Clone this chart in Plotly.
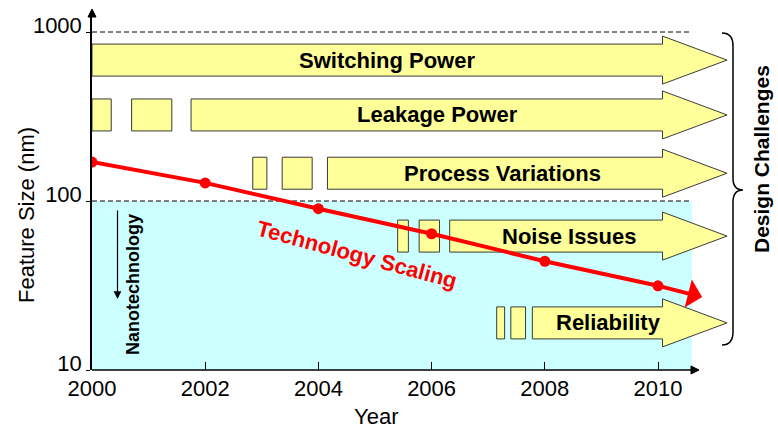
import math
import plotly.graph_objects as go

# ---------------- data ----------------
years = [2000, 2002, 2004, 2006, 2008, 2010]
feature_nm = [170, 128, 90, 64, 44, 31.5]
trend_tip_year = 2010.78
trend_tip_nm = 27

challenge_labels = ["Switching Power", "Leakage Power", "Process Variations",
                    "Noise Issues", "Reliability"]
challenge_level_nm = [682, 323, 146, 62, 19]
challenge_main_start = [2000.0, 2001.75, 2004.16, 2006.32, 2007.78]
challenge_pre_blocks = [
    [],
    [(2000.0, 2000.34), (2000.70, 2001.41)],
    [(2002.84, 2003.09), (2003.36, 2003.89)],
    [(2005.40, 2005.59), (2005.78, 2006.14)],
    [(2007.15, 2007.29), (2007.40, 2007.66)],
]
challenge_label_year = [2005.21, 2006.10, 2007.26, 2008.44, 2009.13]

x_ticks = [2000, 2002, 2004, 2006, 2008, 2010]
y_ticks = [10, 100, 1000]
nano_limit_nm = 100
upper_ref_nm = 1000

# ---------------- layout geometry ----------------
W, H = 778, 436
ML, MR, MT, MB = 92, 38, 16, 66
PW, PH = W - ML - MR, H - MT - MB
PX_PER_YEAR = 56.6
X_RANGE = [2000, 2000 + PW / PX_PER_YEAR]
DECADE_PX = 169.0
Y_RANGE = [1, 1 + PH / DECADE_PX]
REGION_END = 2010.6
HEAD_BASE, HEAD_TIP = 2010.08, 2011.22

FONT = "Liberation Sans, Arial, sans-serif"


def pxx(px):
    return (px - ML) / PW


def pxy(py):
    return (H - MB - py) / PH


def vy(v):
    return (math.log10(v) - Y_RANGE[0]) / (Y_RANGE[1] - Y_RANGE[0])


def label(x, y, text, size, color="black", angle=0, xref="paper", yref="paper"):
    return dict(x=x, y=y, xref=xref, yref=yref, text=text, textangle=angle,
                showarrow=False, xanchor="center", yanchor="middle",
                font=dict(family=FONT, size=size, color=color))


shapes = []
annotations = []

# nanotechnology region
shapes.append(dict(type="rect", xref="x", yref="paper", x0=2000, x1=REGION_END,
                   y0=vy(10), y1=vy(nano_limit_nm), fillcolor="#CCFFFF",
                   line=dict(width=0), layer="below"))
for ref in (nano_limit_nm, upper_ref_nm):
    shapes.append(dict(type="line", xref="x", yref="paper", x0=2000, x1=REGION_END,
                       y0=vy(ref), y1=vy(ref),
                       line=dict(color="black", width=1, dash="5px,3px"), layer="below"))

# x axis line + arrow
shapes.append(dict(type="line", xref="paper", yref="paper", x0=0, x1=pxx(692),
                   y0=0, y1=0, line=dict(color="black", width=1.5)))
shapes.append(dict(type="path", xref="paper", yref="paper",
                   path=f"M {pxx(691)},{pxy(366)} L {pxx(699)},{pxy(370)} L {pxx(691)},{pxy(374)} Z",
                   fillcolor="black", line=dict(color="black", width=1)))
# y axis arrow
shapes.append(dict(type="path", xref="paper", yref="paper",
                   path=f"M {pxx(88)},{pxy(17)} L {pxx(92)},{pxy(9)} L {pxx(96)},{pxy(17)} Z",
                   fillcolor="black", line=dict(color="black", width=1)))

# challenge arrows
FILL = "#FFFF99"
EDGE = "#3a3a3a"
BODY_H, HEAD_H = 16, 24
for lab, lvl, start, blocks, lx in zip(challenge_labels, challenge_level_nm,
                                        challenge_main_start, challenge_pre_blocks,
                                        challenge_label_year):
    c = vy(lvl)
    b = BODY_H / PH
    h = HEAD_H / PH
    for (a0, a1) in blocks:
        shapes.append(dict(type="rect", xref="x", yref="paper", x0=a0, x1=a1,
                           y0=c - b, y1=c + b, fillcolor=FILL, layer="below",
                           line=dict(color=EDGE, width=1)))
    path = (f"M {start},{c + b} L {HEAD_BASE},{c + b} L {HEAD_BASE},{c + h} "
            f"L {HEAD_TIP},{c} L {HEAD_BASE},{c - h} L {HEAD_BASE},{c - b} "
            f"L {start},{c - b} Z")
    shapes.append(dict(type="path", xref="x", yref="paper", path=path, layer="below",
                       fillcolor=FILL, line=dict(color=EDGE, width=1)))
    annotations.append(label(lx, c, f"<b>{lab}</b>", 22, xref="x"))

# brace
brace = (f"M {pxx(722)},{pxy(33)} Q {pxx(733)},{pxy(33)} {pxx(733)},{pxy(46)} "
         f"L {pxx(733)},{pxy(178)} Q {pxx(733)},{pxy(190)} {pxx(743)},{pxy(190)} "
         f"Q {pxx(733)},{pxy(190)} {pxx(733)},{pxy(202)} "
         f"L {pxx(733)},{pxy(332)} Q {pxx(733)},{pxy(345)} {pxx(722)},{pxy(345)}")
shapes.append(dict(type="path", xref="paper", yref="paper", path=brace,
                   line=dict(color="black", width=1.5)))

annotations.append(label(pxx(761), pxy(159), "<b>Design Challenges</b>", 21, angle=-90))

# nanotechnology label + arrow
annotations.append(label(pxx(133), pxy(285), "<b>Nanotechnology</b>", 18, angle=-90))
annotations.append(dict(x=pxx(117.5), y=pxy(299), xref="paper", yref="paper", text="",
                        showarrow=True, ax=0, ay=-90, arrowhead=2, arrowsize=1.3,
                        arrowwidth=1.2, arrowcolor="black"))

# trend arrow head
annotations.append(dict(x=trend_tip_year, y=math.log10(trend_tip_nm), xref="x", yref="y",
                        ax=years[-1], ay=math.log10(feature_nm[-1]), axref="x", ayref="y",
                        text="", showarrow=True, arrowhead=1, arrowsize=1.2,
                        arrowwidth=4, arrowcolor="#FF0000"))
annotations.append(label(pxx(357), pxy(254), "<b>Technology Scaling</b>", 22,
                         color="#FF0000", angle=15))

# axis titles
annotations.append(label(pxx(376), pxy(416), "Year", 22))
annotations.append(label(pxx(26), pxy(215), "Feature Size (nm)", 22, angle=-90))

fig = go.Figure()
fig.add_trace(go.Scatter(x=years, y=feature_nm, mode="lines+markers",
                         line=dict(color="#FF0000", width=4),
                         marker=dict(color="#FF0000", size=11),
                         showlegend=False, hoverinfo="skip"))

fig.update_layout(
    width=W, height=H,
    margin=dict(l=ML, r=MR, t=MT, b=MB, pad=0),
    paper_bgcolor="white", plot_bgcolor="rgba(0,0,0,0)",
    shapes=shapes, annotations=annotations,
    font=dict(family=FONT, size=22, color="black"),
    xaxis=dict(range=X_RANGE, tickvals=x_ticks, ticktext=[str(t) for t in x_ticks],
               showgrid=False, zeroline=False, showline=False,
               ticks="inside", ticklen=8, tickwidth=1, tickcolor="black",
               ticklabelstandoff=3,
               tickfont=dict(family=FONT, size=22, color="black")),
    yaxis=dict(type="log", range=Y_RANGE, tickvals=y_ticks,
               ticktext=[str(t) for t in y_ticks],
               showgrid=False, zeroline=False, showline=True, linecolor="black",
               linewidth=1.5, ticks="outside", ticklen=4, tickwidth=1,
               ticklabelshift=-7,
               tickcolor="black", tickfont=dict(family=FONT, size=22, color="black")),
)

fig.write_html("out.html")
